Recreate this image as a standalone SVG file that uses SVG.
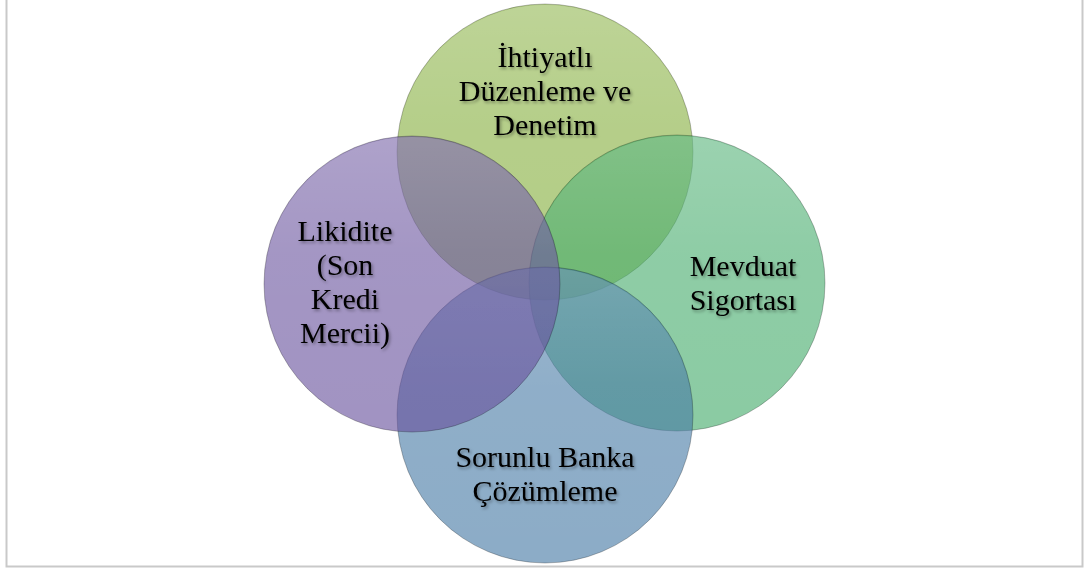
<svg xmlns="http://www.w3.org/2000/svg" width="1084" height="572" viewBox="0 0 1084 572">
  <style>
    .disc { stroke: #000; stroke-opacity: 0.25; stroke-width: 1; }
    .label { font-family: "Liberation Serif", "Times New Roman", serif; font-size: 30px; fill: #000; text-anchor: middle; filter: url(#textShadow); }
  </style>
  <defs>
    <filter id="textShadow" x="-20%" y="-40%" width="140%" height="180%">
      <feDropShadow dx="1.5" dy="2" stdDeviation="1.6" flood-color="#000" flood-opacity="0.35"/>
    </filter>
    <linearGradient id="gloss" x1="0" y1="0" x2="0" y2="1">
      <stop offset="0" stop-color="#fff" stop-opacity="0.14"/>
      <stop offset="0.4" stop-color="#fff" stop-opacity="0.03"/>
      <stop offset="1" stop-color="#fff" stop-opacity="0"/>
    </linearGradient>
  </defs>

  <rect x="6.5" y="-5" width="1076" height="571.5" fill="#fff" stroke="#c9c9c9" stroke-width="2"/>

  <!-- Venn circles, semi-transparent so overlaps blend -->
  <g id="node-ihtiyatli">
    <circle class="disc" cx="545" cy="152" r="148" fill="#84ae3c" fill-opacity="0.62"/>
    <circle cx="545" cy="152" r="147" fill="url(#gloss)"/>
  </g>
  <g id="node-mevduat">
    <circle class="disc" cx="677" cy="283" r="148" fill="#3ea966" fill-opacity="0.6"/>
    <circle cx="677" cy="283" r="147" fill="url(#gloss)"/>
  </g>
  <g id="node-sorunlu">
    <circle class="disc" cx="545" cy="415" r="148" fill="#3f74a2" fill-opacity="0.6"/>
    <circle cx="545" cy="415" r="147" fill="url(#gloss)"/>
  </g>
  <g id="node-likidite">
    <circle class="disc" cx="412" cy="284" r="148" fill="#68509c" fill-opacity="0.62"/>
    <circle cx="412" cy="284" r="147" fill="url(#gloss)"/>
  </g>

  <!-- Labels -->
  <g id="labels">
    <text class="label" x="545" y="67">İhtiyatlı</text>
    <text class="label" x="545" y="101">Düzenleme ve</text>
    <text class="label" x="545" y="135">Denetim</text>

    <text class="label" x="743" y="276">Mevduat</text>
    <text class="label" x="743" y="310">Sigortası</text>

    <text class="label" x="545" y="467">Sorunlu Banka</text>
    <text class="label" x="545" y="501">Çözümleme</text>

    <text class="label" x="345" y="241">Likidite</text>
    <text class="label" x="345" y="275">(Son</text>
    <text class="label" x="345" y="309">Kredi</text>
    <text class="label" x="345" y="343">Mercii)</text>
  </g>
</svg>
